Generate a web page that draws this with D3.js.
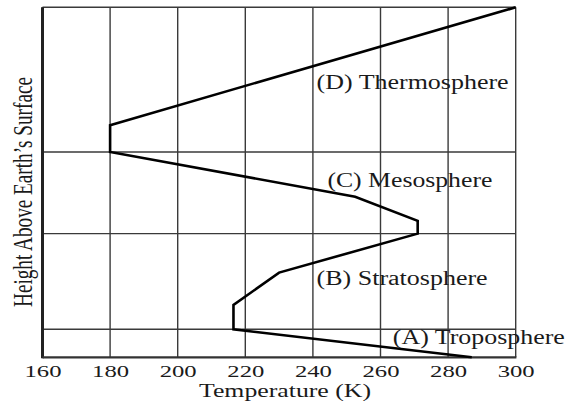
<!DOCTYPE html>
<html><head><meta charset="utf-8">
<script src="https://cdn.jsdelivr.net/npm/d3@7"></script>
<style>body{margin:0;background:#fff}svg{display:block}</style>
</head><body>
<script>
// Data
const temperatures = [287, 216.5, 216.5, 230, 271, 271, 252.5, 180, 180, 300];
const heights      = [0, 12, 22.4, 36.3, 53, 58.5, 68.8, 88, 99.5, 150];
const xTicks = [160, 180, 200, 220, 240, 260, 280, 300];
const layerBoundaries = [12, 53, 88];
const layerNames = ["(D) Thermosphere", "(C) Mesosphere", "(B) Stratosphere", "(A) Troposphere"];
const layerLabelTemp = [269.5, 268.7, 266.4, 289.1];
const layerLabelHeight = [115, 73, 30.8, 5.7];
const layerLabelWidth = [192, 165, 171, 172];

const W = 582, H = 402;
const m = {left: 42.5, right: 66.3, top: 7.3, bottom: 44.7};
const svg = d3.select("body").append("svg").attr("width", W).attr("height", H);
const x = d3.scaleLinear().domain([160, 300]).range([m.left, W - m.right]);
const y = d3.scaleLinear().domain([0, 150]).range([H - m.bottom, m.top]);
const font = "'Liberation Serif','Times New Roman',serif";
const ink = "#1a1a1a";

// vertical grid
svg.append("g").selectAll("line").data(xTicks).join("line")
  .attr("x1", d => x(d)).attr("x2", d => x(d))
  .attr("y1", y(0)).attr("y2", y(150))
  .attr("stroke", "#3a3a3a").attr("stroke-width", 1.4);
// horizontal grid
svg.append("g").selectAll("line").data(layerBoundaries.concat([150])).join("line")
  .attr("x1", x(160)).attr("x2", x(300))
  .attr("y1", d => y(d)).attr("y2", d => y(d))
  .attr("stroke", "#3a3a3a").attr("stroke-width", 1.4);
// axes
svg.append("line").attr("x1", x(160)).attr("x2", x(160)).attr("y1", y(0)+1).attr("y2", y(150))
  .attr("stroke", "#222").attr("stroke-width", 3);
svg.append("line").attr("x1", x(160)).attr("x2", x(300)+0.7).attr("y1", y(0)).attr("y2", y(0))
  .attr("stroke", "#333").attr("stroke-width", 2.2);

// tick labels via axis
const xAxis = d3.axisBottom(x).tickValues(xTicks).tickSize(0).tickPadding(0);
const gx = svg.append("g").attr("transform", `translate(0,${y(0)})`).call(xAxis);
gx.select(".domain").remove();
gx.selectAll("text").attr("dy", null).attr("y", 19.4)
  .attr("font-family", font).attr("font-size", 17).attr("fill", ink)
  .attr("textLength", 37).attr("lengthAdjust", "spacingAndGlyphs");

// curve
const pts = temperatures.map((t, i) => [t, heights[i]]);
svg.append("path").datum(pts)
  .attr("d", d3.line().x(d => x(d[0])).y(d => y(d[1])))
  .attr("fill", "none").attr("stroke", "#000").attr("stroke-width", 2.6)
  .attr("stroke-linejoin", "miter");

// layer labels
svg.append("g").selectAll("text").data(layerNames).join("text")
  .attr("x", (d, i) => x(layerLabelTemp[i])).attr("y", (d, i) => y(layerLabelHeight[i]))
  .attr("text-anchor", "middle").attr("font-family", font).attr("font-size", 20).attr("fill", ink)
  .attr("textLength", (d, i) => layerLabelWidth[i]).attr("lengthAdjust", "spacingAndGlyphs")
  .text(d => d);

// axis titles
svg.append("text").attr("x", 285).attr("y", 396.5).attr("text-anchor", "middle")
  .attr("font-family", font).attr("font-size", 19).attr("fill", ink)
  .attr("textLength", 172).attr("lengthAdjust", "spacingAndGlyphs")
  .text("Temperature (K)");
svg.append("text").attr("transform", "translate(32,192) scale(1.4,1) rotate(-90)")
  .attr("text-anchor", "middle").attr("font-family", font).attr("font-size", 19).attr("fill", ink)
  .attr("textLength", 230).attr("lengthAdjust", "spacingAndGlyphs")
  .text("Height Above Earth\u2019s Surface");
</script>
</body></html>
